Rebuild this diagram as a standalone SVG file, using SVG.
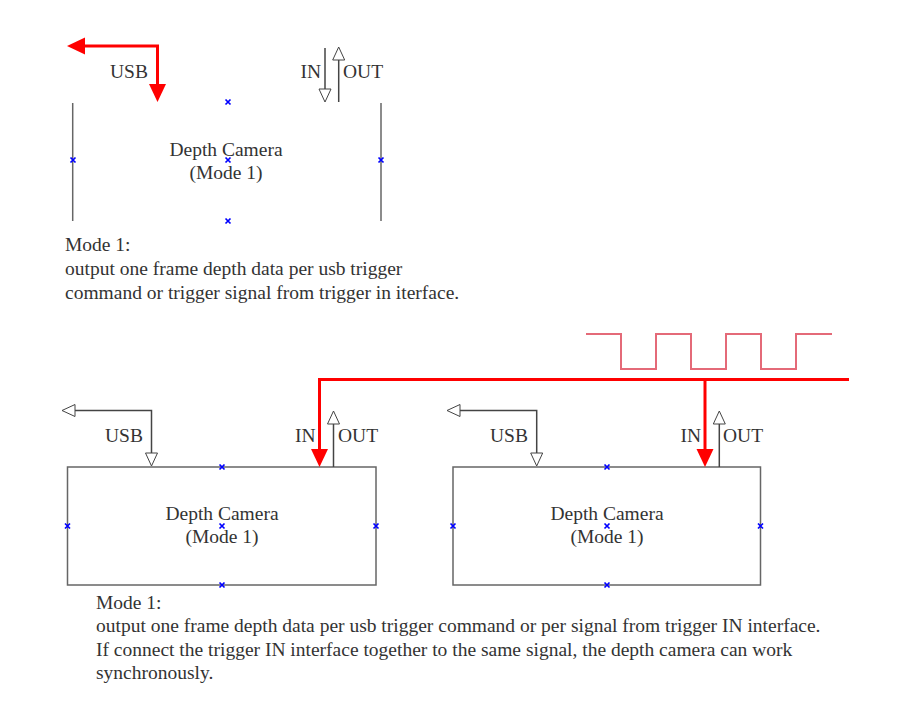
<svg xmlns="http://www.w3.org/2000/svg" xmlns:xlink="http://www.w3.org/1999/xlink" width="902" height="719" viewBox="0 0 902 719">
<style>
text{font-family:"Liberation Serif","Times New Roman",serif;font-size:19.5px;fill:#333}
.c{text-anchor:middle}
.box{fill:none;stroke:#666;stroke-width:1.5}
.wire{fill:none;stroke:#444;stroke-width:1.5}
.red{fill:none;stroke:#f00;stroke-width:3}
.wave{fill:none;stroke:#e46a78;stroke-width:2}
.mk{fill:none;stroke:#00f;stroke-width:1.7}
</style>
<defs>
<marker id="ho" markerUnits="userSpaceOnUse" markerWidth="16" markerHeight="14" refX="0" refY="7" orient="auto-start-reverse" overflow="visible">
<path d="M0,1 L13,7 L0,13 Z" fill="#fff" stroke="#444" stroke-width="1"/>
</marker>
<marker id="rd" markerUnits="userSpaceOnUse" markerWidth="18" markerHeight="18" refX="0" refY="9" orient="auto-start-reverse" overflow="visible">
<path d="M-1,0.5 L17,9 L-1,17.5 Z" fill="#f00"/>
</marker>
<path id="x" d="M-2.5,-2.5 L2.5,2.5 M-2.5,2.5 L2.5,-2.5"/>
</defs>

<g id="cam_top">
<line class="box" x1="72.7" y1="103" x2="72.7" y2="221"/>
<line class="box" x1="381" y1="103" x2="381" y2="221"/>
<g class="mk">
<use xlink:href="#x" x="228" y="102"/>
<use xlink:href="#x" x="73" y="160"/>
<use xlink:href="#x" x="228" y="160"/>
<use xlink:href="#x" x="381" y="160"/>
<use xlink:href="#x" x="228" y="221"/>
</g>
<text class="c" x="226" y="156">Depth Camera</text>
<text class="c" x="226" y="179">(Mode 1)</text>
</g>

<g id="cam_left">
<rect class="box" x="67.5" y="467" width="308.5" height="118"/>
<g class="mk">
<use xlink:href="#x" x="222" y="467"/>
<use xlink:href="#x" x="67.5" y="526"/>
<use xlink:href="#x" x="222" y="526"/>
<use xlink:href="#x" x="376" y="526"/>
<use xlink:href="#x" x="222" y="585"/>
</g>
<text class="c" x="222" y="520">Depth Camera</text>
<text class="c" x="222" y="543">(Mode 1)</text>
</g>

<g id="cam_right">
<rect class="box" x="453" y="467" width="307.5" height="118"/>
<g class="mk">
<use xlink:href="#x" x="607" y="467"/>
<use xlink:href="#x" x="453" y="526"/>
<use xlink:href="#x" x="607" y="526"/>
<use xlink:href="#x" x="760.5" y="526"/>
<use xlink:href="#x" x="607" y="585"/>
</g>
<text class="c" x="607" y="520">Depth Camera</text>
<text class="c" x="607" y="543">(Mode 1)</text>
</g>

<g id="signal">
<path class="wave" d="M586,334 H621 V369 H656 V334 H691 V369 H726 V334 H761 V369 H796 V334 H832"/>
</g>

<g id="connectors">
<path class="red" d="M84,46 H157.5 V85" marker-start="url(#rd)" marker-end="url(#rd)"/>
<path class="wire" d="M325,48 V89" marker-end="url(#ho)"/>
<path class="wire" d="M338.7,102 V60" marker-end="url(#ho)"/>

<path class="wire" d="M75,410.5 H151.5 V453" marker-start="url(#ho)" marker-end="url(#ho)"/>
<path class="wire" d="M333.5,467 V424" marker-end="url(#ho)"/>
<path class="wire" d="M460,410.5 H536.7 V453" marker-start="url(#ho)" marker-end="url(#ho)"/>
<path class="wire" d="M719.3,467 V424" marker-end="url(#ho)"/>

<path class="red" d="M849,379.5 H319.5 V450" marker-end="url(#rd)"/>
<path class="red" d="M705,379.5 V450" marker-end="url(#rd)"/>
</g>

<g id="labels">
<text x="110" y="78">USB</text>
<text x="300.5" y="78">IN</text>
<text x="343" y="78">OUT</text>
<text x="105" y="442">USB</text>
<text x="295" y="442">IN</text>
<text x="338" y="442">OUT</text>
<text x="490" y="442">USB</text>
<text x="680.5" y="442">IN</text>
<text x="723" y="442">OUT</text>
</g>

<g id="note_top">
<text x="65" y="251">Mode 1:</text>
<text x="65" y="275">output one frame depth data per usb trigger</text>
<text x="65" y="299">command or trigger signal from trigger in iterface.</text>
</g>

<g id="note_bottom">
<text x="96" y="608.5">Mode 1:</text>
<text x="96" y="632">output one frame depth data per usb trigger command or per signal from trigger IN interface.</text>
<text x="96" y="655.5">If connect the trigger IN interface together to the same signal, the depth camera can work</text>
<text x="96" y="679">synchronously.</text>
</g>
</svg>
